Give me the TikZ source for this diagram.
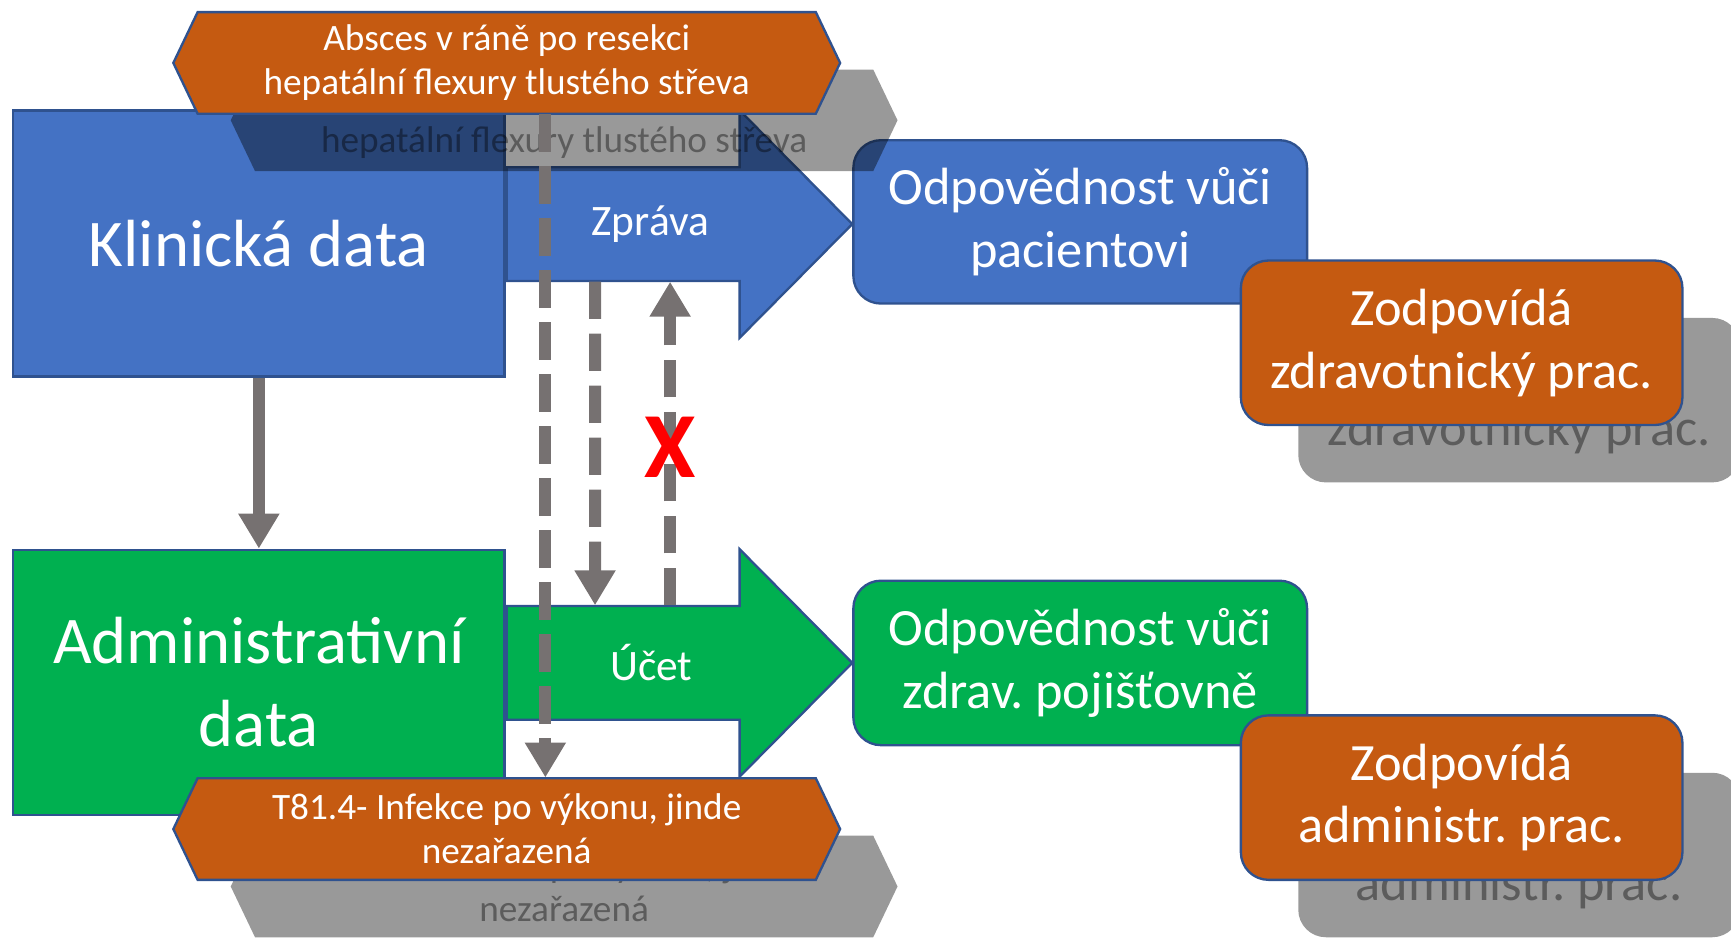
\documentclass[tikz,border=0pt]{standalone}
\usepackage{fontspec}
\setmainfont{Carlito}
\usetikzlibrary{arrows.meta}
\usetikzlibrary{calc}
\usetikzlibrary{positioning}

\definecolor{offblue}{HTML}{4472C4}
\definecolor{offgreen}{HTML}{00B050}
\definecolor{offorange}{HTML}{C55A11}
\definecolor{offedge}{HTML}{2F528F}
\definecolor{arrowgray}{HTML}{767171}

\begin{document}
\frenchspacing
\begin{tikzpicture}[
    databox/.style={draw=offedge, line width=0.6pt, text=white, align=center,
        minimum width=4.45cm, minimum height=2.41cm, font=\fontsize{17.2}{21.3}\selectfont},
    respbox/.style={draw=offedge, line width=0.6pt, rounded corners=0.25cm, text=white, align=center,
        minimum width=4.11cm, minimum height=1.48cm, font=\fontsize{13.5}{16.2}\selectfont},
    whobox/.style={respbox, fill=offorange, minimum width=4.0cm, minimum height=1.49cm},
    flowlabel/.style={text=white, minimum height=1.03cm, font=\fontsize{11.2}{13.4}\selectfont},
    hexlabel/.style={text=white, align=center, inner sep=1pt,
        minimum width=5.6cm, minimum height=0.92cm, font=\fontsize{9.6}{11.4}\selectfont},
    hexline/.style={fill=offorange, draw=offedge, line width=0.6pt},
    castshadow/.style={fill=black, fill opacity=0.4, draw=none},
    ghosttext/.style={text=black, text opacity=0.4},
    solidarrow/.style={draw=arrowgray, line width=3.1pt, -{Triangle[width=10pt,length=9pt]}},
    dasharrow/.style={solidarrow, dash pattern=on 9.6pt off 3.8pt},
]
    \clip (0,0) rectangle (15.68,8.49);

    \node[databox, fill=offblue] (klin) at (2.345,6.285) {Klinická data};
    \node[databox, fill=offgreen, minimum height=2.40cm] (admin) at (2.345,2.31) {Administrativní\\data};

    \node[respbox, fill=offblue] (pacient) at (9.785,6.48) {Odpovědnost vůči\\pacientovi};
    \node[respbox, fill=offgreen, minimum height=1.49cm] (pojist) at (9.785,2.485) {Odpovědnost vůči\\zdrav. pojišťovně};

    % block arrows
    \coordinate (zpr) at (4.59,6.46);
    \draw[fill=offblue, draw=offedge, line width=0.6pt] (zpr) ++(0,0.515) -- ++(2.11,0) -- ++(0,0.515)
        -- ++(1.02,-1.03) -- ++(-1.02,-1.03) -- ++(0,0.515) -- ++(-2.11,0) -- cycle;
    \node[flowlabel] (zprava) at (5.89,6.46) {Zpráva};

    \coordinate (uct) at (4.59,2.485);
    \draw[fill=offgreen, draw=offedge, line width=0.6pt] (uct) ++(0,0.515) -- ++(2.11,0) -- ++(0,0.515)
        -- ++(1.02,-1.03) -- ++(-1.02,-1.03) -- ++(0,0.515) -- ++(-2.11,0) -- cycle;
    \node[flowlabel] (ucet) at (5.90,2.485) {Účet};

    \draw[solidarrow] (klin.south) -- (admin.north);

    % diagnoses
    \coordinate (hex1) at (4.59,7.92);
    \fill[castshadow] ($(hex1)+(0.52,-0.52)$) ++(-2.8,0.46) -- ++(5.6,0) -- ++(0.22,-0.46)
        -- ++(-0.22,-0.46) -- ++(-5.6,0) -- ++(-0.22,0.46) -- cycle;
    \node[hexlabel, ghosttext] (absces-sh) at ($(hex1)+(0.52,-0.52)$) {Absces v ráně po resekci\\hepatální flexury tlustého střeva};
    \draw[hexline] (hex1) ++(-2.8,0.46) -- ++(5.6,0) -- ++(0.22,-0.46)
        -- ++(-0.22,-0.46) -- ++(-5.6,0) -- ++(-0.22,0.46) -- cycle;
    \node[hexlabel] (absces) at (hex1) {Absces v ráně po resekci\\hepatální flexury tlustého střeva};

    \coordinate (hex2) at (4.59,0.98);
    \fill[castshadow] ($(hex2)+(0.52,-0.52)$) ++(-2.8,0.46) -- ++(5.6,0) -- ++(0.22,-0.46)
        -- ++(-0.22,-0.46) -- ++(-5.6,0) -- ++(-0.22,0.46) -- cycle;
    \node[hexlabel, ghosttext] (infekce-sh) at ($(hex2)+(0.52,-0.52)$) {T81.4- Infekce po výkonu, jinde\\nezařazená};
    \draw[hexline] (hex2) ++(-2.8,0.46) -- ++(5.6,0) -- ++(0.22,-0.46)
        -- ++(-0.22,-0.46) -- ++(-5.6,0) -- ++(-0.22,0.46) -- cycle;
    \node[hexlabel] (infekce) at (hex2) {T81.4- Infekce po výkonu, jinde\\nezařazená};

    \draw[dasharrow] ([xshift=0.35cm]absces.south) -- ([xshift=0.35cm]infekce.north);
    \draw[dasharrow] ([xshift=-0.5cm]zprava.south) -- ([xshift=-0.51cm]ucet.north);
    \draw[dasharrow] ([xshift=0.17cm]ucet.north) -- ([xshift=0.18cm]zprava.south);
    \node[text=red, font=\fontsize{24}{24}\selectfont\bfseries] (blok) at (6.07,4.44) {X};

    % who is responsible
    \coordinate (who1) at (13.24,5.385);
    \node[whobox, castshadow, ghosttext] (zdrav-sh) at ($(who1)+(0.52,-0.52)$) {Zodpovídá\\zdravotnický prac.};
    \node[whobox] (zdrav) at (who1) {Zodpovídá\\zdravotnický prac.};

    \coordinate (who2) at (13.24,1.265);
    \node[whobox, castshadow, ghosttext] (admprac-sh) at ($(who2)+(0.52,-0.52)$) {Zodpovídá\\administr. prac.};
    \node[whobox] (admprac) at (who2) {Zodpovídá\\administr. prac.};
\end{tikzpicture}
\end{document}
